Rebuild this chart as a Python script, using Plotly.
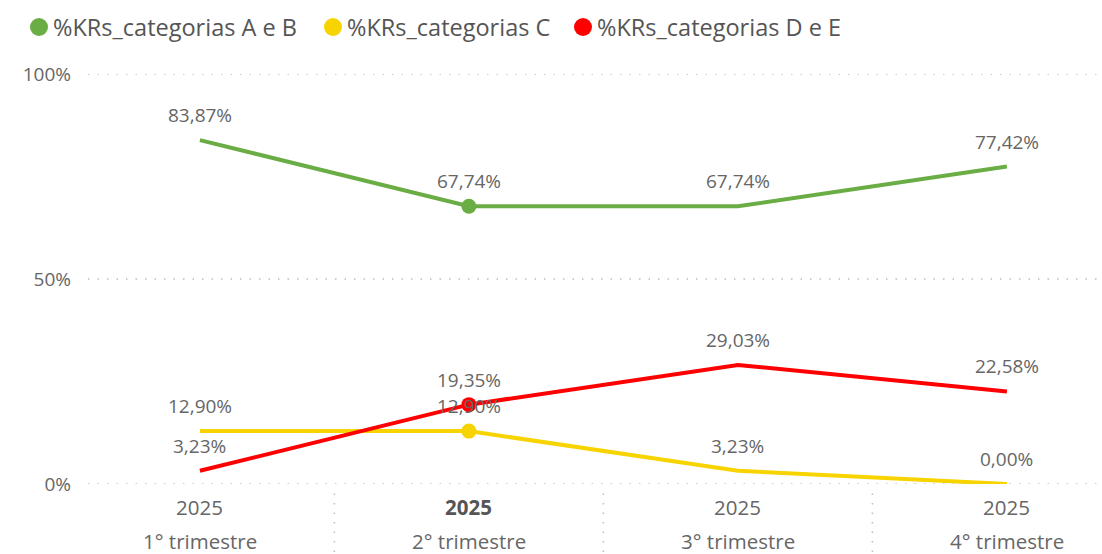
import plotly.graph_objects as go

quarters = ["1° trimestre", "2° trimestre", "3° trimestre", "4° trimestre"]
years = ["2025", "2025", "2025", "2025"]
bold_year = [False, True, False, False]

series_names = ["%KRs_categorias A e B", "%KRs_categorias C", "%KRs_categorias D e E"]
ab_values = [0.8387, 0.6774, 0.6774, 0.7742]
c_values = [0.1290, 0.1290, 0.0323, 0.0000]
de_values = [0.0323, 0.1935, 0.2903, 0.2258]
colors = ["#6AAD45", "#F7D400", "#FF0000"]

y_ticks = [0, 0.5, 1.0]
y_ticktext = ["0%", "50%", "100%"]

FONT = "Open Sans"
GRAY = "#666666"

# layout geometry (pixels)
W, H = 1102, 554
ML, MR, MT, MB = 88, 5, 74, 70
PW, PH = W - ML - MR, H - MT - MB
legend_px = [39, 333, 583]
legend_y_px = 27


def px_x(p):
    return (p - ML) / PW


def px_y(p):
    return (H - MB - p) / PH


xs = list(range(len(quarters)))
fig = go.Figure()
all_series = [ab_values, c_values, de_values]
for name, vals, col in zip(series_names, all_series, colors):
    sizes = [15 if i == 1 else 0 for i in xs]
    fig.add_trace(go.Scatter(
        x=xs, y=vals, name=name, mode="lines+markers",
        line=dict(color=col, width=4),
        marker=dict(color=col, size=sizes, opacity=1, line=dict(width=0)),
        cliponaxis=False, showlegend=False, hoverinfo="skip",
    ))

annotations = []
for vals in all_series:
    for x, v in zip(xs, vals):
        annotations.append(dict(
            x=x, y=v, xref="x", yref="y",
            text=f"{v*100:.2f}%".replace(".", ","),
            showarrow=False, yshift=25,
            font=dict(family=FONT, size=19, color=GRAY),
        ))

for x, yr, q, b in zip(xs, years, quarters, bold_year):
    annotations.append(dict(
        x=x, y=0, xref="x", yref="y", yshift=-23,
        text=f"<b>{yr}</b>" if b else yr, showarrow=False,
        font=dict(family=FONT, size=20.5, color="#555555" if b else GRAY),
    ))
    annotations.append(dict(
        x=x, y=0, xref="x", yref="y", yshift=-57,
        text=q, showarrow=False,
        font=dict(family=FONT, size=20.5, color=GRAY),
    ))

DOT = "1.5px,8px"
shapes = []
# dotted horizontal gridlines
for yt in y_ticks:
    shapes.append(dict(
        type="line", xref="paper", yref="y", x0=0, x1=1, y0=yt, y1=yt,
        line=dict(color="#BDBDBD", width=1.5, dash=DOT), layer="below",
    ))
# dotted category separators
for x in xs:
    shapes.append(dict(
        type="line", xref="x", yref="paper",
        x0=x - 0.5, x1=x - 0.5, y0=-0.023, y1=-0.2,
        line=dict(color="#BDBDBD", width=1.5, dash=DOT),
    ))

# manual legend: circle + text
for name, col, lp in zip(series_names, colors, legend_px):
    shapes.append(dict(
        type="circle", xref="paper", yref="paper",
        xsizemode="pixel", ysizemode="pixel",
        xanchor=px_x(lp), yanchor=px_y(legend_y_px),
        x0=-9, x1=9, y0=-9, y1=9,
        fillcolor=col, line=dict(width=0),
    ))
    annotations.append(dict(
        x=px_x(lp + 12), y=px_y(legend_y_px), xref="paper", yref="paper",
        xanchor="left", yanchor="middle", showarrow=False,
        text=name, font=dict(family=FONT, size=23.5, color="#555555"),
    ))

fig.update_layout(
    width=W, height=H,
    margin=dict(l=ML, r=MR, t=MT, b=MB),
    paper_bgcolor="white", plot_bgcolor="white",
    font=dict(family=FONT, size=19, color=GRAY),
    showlegend=False,
    xaxis=dict(
        range=[-0.416, 3.335], showticklabels=False, showgrid=False,
        zeroline=False, showline=False, fixedrange=True,
    ),
    yaxis=dict(
        range=[0, 1], tickvals=y_ticks, ticktext=y_ticktext,
        showgrid=False, zeroline=False, showline=False, ticks="",
        ticklabelstandoff=16, fixedrange=True,
        tickfont=dict(family=FONT, size=19, color=GRAY),
    ),
    annotations=annotations,
    shapes=shapes,
)

fig.write_html("out.html", config={"displayModeBar": False},
               post_script="document.body.style.margin='0';")
